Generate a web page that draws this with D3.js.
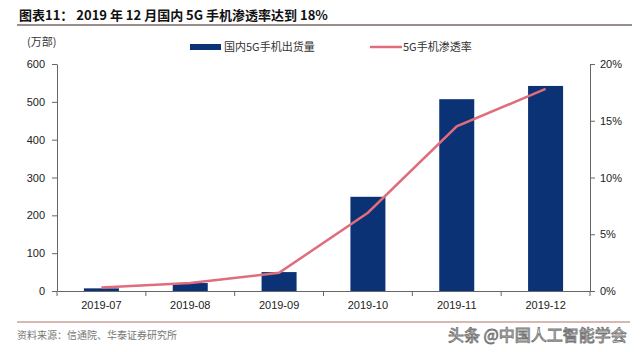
<!DOCTYPE html>
<html><head><meta charset="utf-8">
<script src="https://cdn.jsdelivr.net/npm/d3@7"></script>
<style>body{margin:0;background:#fff;}svg{display:block;font-family:"Liberation Sans","Noto Sans CJK SC",sans-serif;}</style>
</head><body>
<script>
const categories = ["2019-07","2019-08","2019-09","2019-10","2019-11","2019-12"];
const shipments = [7, 21, 50, 249, 507, 542];
const penetration = [0.3, 0.7, 1.6, 6.9, 14.5, 17.8];
const leftTicks = [0,100,200,300,400,500,600];
const rightTicks = [0,5,10,15,20];

const W=640,H=352;
const svg=d3.select("body").append("svg").attr("width",W).attr("height",H);
const L=57,R=590,T=64,B=291;
const x=d3.scaleBand().domain(categories).range([L,R]).paddingInner(0.6).paddingOuter(0.3);
const xb=d3.scaleBand().domain(categories).range([L,R]);
const y=d3.scaleLinear().domain([0,600]).range([B,T]);
const y2=d3.scaleLinear().domain([0,20]).range([B,T]);

// title
svg.append("text").attr("x",19).attr("y",20).attr("font-size",13).attr("font-weight","bold")
  .attr("fill","#111").attr("font-family","'Noto Sans CJK SC',sans-serif")
  .text("图表11：  2019 年 12 月国内 5G 手机渗透率达到 18%");
svg.append("line").attr("x1",17).attr("x2",632).attr("y1",25).attr("y2",25).attr("stroke","#7a6a68").attr("stroke-width",1.5);

// unit
svg.append("text").attr("x",27).attr("y",46).attr("font-size",11).attr("fill","#333")
  .attr("font-family","'Noto Sans CJK SC',sans-serif").text("(万部)");

// bars
svg.selectAll("rect.bar").data(categories).join("rect").attr("class","bar")
  .attr("x",d=>xb(d)+xb.bandwidth()/2-17.5).attr("width",35)
  .attr("y",(d,i)=>y(shipments[i])).attr("height",(d,i)=>B-y(shipments[i]))
  .attr("fill","#0b3275");

// line
const line=d3.line().x((d,i)=>xb(categories[i])+xb.bandwidth()/2).y(d=>y2(d));
svg.append("path").datum(penetration).attr("d",line).attr("fill","none")
  .attr("stroke","#e06c7c").attr("stroke-width",2.5);

// axes
const axL=d3.axisLeft(y).tickValues(leftTicks).tickSize(5).tickSizeOuter(0);
const gL=svg.append("g").attr("transform",`translate(${L},0)`).call(axL);
const axR=d3.axisRight(y2).tickValues(rightTicks).tickFormat(d=>d+"%").tickSize(5).tickSizeOuter(0);
const gR=svg.append("g").attr("transform",`translate(${R},0)`).call(axR);
const axB=d3.axisBottom(xb).tickSize(0);
const gB=svg.append("g").attr("transform",`translate(0,${B})`).call(axB);
// category boundary ticks
svg.selectAll("line.bt").data(d3.range(categories.length+1)).join("line").attr("class","bt")
  .attr("x1",i=>L+i*xb.step()).attr("x2",i=>L+i*xb.step()).attr("y1",B).attr("y2",B+5).attr("stroke","#666");
[gL,gR,gB].forEach(g=>{
  g.selectAll("path.domain").attr("stroke","#666");
  g.selectAll(".tick line").attr("stroke","#666");
  g.selectAll("text").attr("font-size",11).attr("fill","#222").attr("font-family","'Liberation Sans',Arial,sans-serif");
});
gL.selectAll("text").attr("x",-12);
gR.selectAll("text").attr("x",10);
gB.selectAll("text").attr("dy","1.35em");
gB.select("path.domain").attr("stroke","#666");

// legend
svg.append("rect").attr("x",190).attr("y",44).attr("width",31).attr("height",6).attr("fill","#0b3275");
svg.append("text").attr("x",224).attr("y",51).attr("font-size",11).attr("fill","#333")
  .attr("font-family","'Noto Sans CJK SC',sans-serif").text("国内5G手机出货量");
svg.append("line").attr("x1",370).attr("x2",402).attr("y1",47).attr("y2",47).attr("stroke","#e06c7c").attr("stroke-width",2.5);
svg.append("text").attr("x",403).attr("y",51).attr("font-size",11).attr("fill","#333")
  .attr("font-family","'Noto Sans CJK SC',sans-serif").text("5G手机渗透率");

// footer
svg.append("line").attr("x1",17).attr("x2",630).attr("y1",322).attr("y2",322).attr("stroke","#c9a09c").attr("stroke-width",1.5);
svg.append("text").attr("x",17).attr("y",339).attr("font-size",10).attr("fill","#777")
  .attr("font-family","'Noto Sans CJK SC',sans-serif").text("资料来源：信通院、华泰证券研究所");
svg.append("text").attr("x",448).attr("y",341).attr("font-size",16).attr("fill","#fff").attr("stroke","#777").attr("stroke-width",0.9)
  .attr("font-family","'Noto Sans CJK SC',sans-serif").text("头条 @中国人工智能学会");
</script>
</body></html>
